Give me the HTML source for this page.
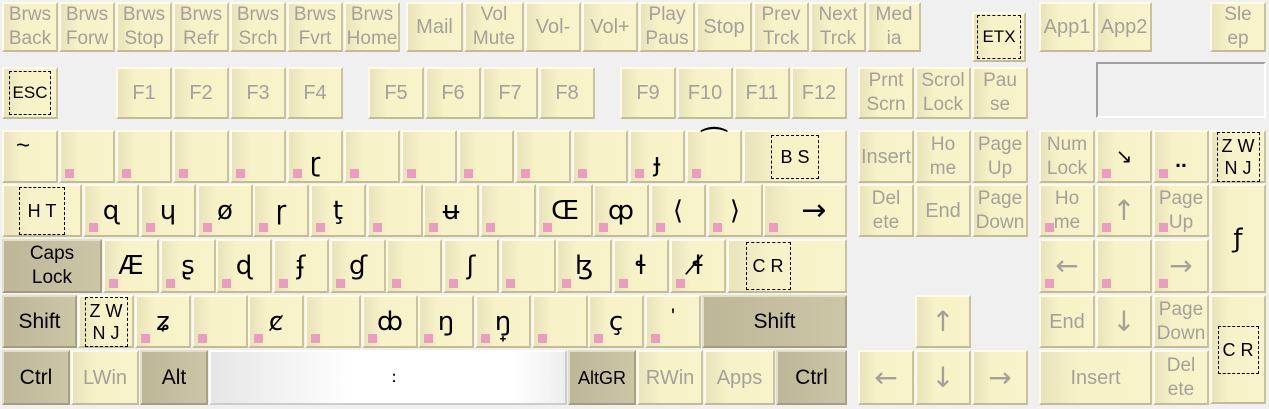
<!DOCTYPE html>
<html><head><meta charset="utf-8"><style>
body{margin:0;width:1269px;height:409px;background:#f0f0f0;position:relative;overflow:hidden;font-family:"Liberation Sans","DejaVu Sans",sans-serif}
.k{position:absolute;box-sizing:border-box;background:linear-gradient(90deg,#e9e3bb 0%,#f8f2c8 35%,#f8f3ca 100%);border:2px solid;border-color:#fffbe6 #c9c39c #c2bc94 #fffbe6;display:flex;align-items:center;justify-content:center;text-align:center;font-size:21px;color:#000;line-height:24px}
.g{color:#a3a19a;font-size:20px}
.d{background:linear-gradient(90deg,#bdb797,#ccc6a6);border-color:#e4dfc8 #a8a283 #a39d7e #e4dfc8}
.s{font-size:19px;line-height:24px}
.p::after{content:"";position:absolute;left:4px;bottom:3px;width:9px;height:9px;background:#ea9dbf}
.b{border:1px dashed #000;font-size:18px;padding:6px 8px;line-height:22px}
.t{font-family:"DejaVu Sans",sans-serif;font-size:26px}
.g.t{font-size:28px}
</style></head><body>
<!-- row 0 -->
<div class="k g s" style="left:2px;top:2px;width:56px;height:50px">Brws<br>Back</div>
<div class="k g s" style="left:59px;top:2px;width:56px;height:50px">Brws<br>Forw</div>
<div class="k g s" style="left:116px;top:2px;width:56px;height:50px">Brws<br>Stop</div>
<div class="k g s" style="left:173px;top:2px;width:56px;height:50px">Brws<br>Refr</div>
<div class="k g s" style="left:230px;top:2px;width:56px;height:50px">Brws<br>Srch</div>
<div class="k g s" style="left:287px;top:2px;width:56px;height:50px">Brws<br>Fvrt</div>
<div class="k g s" style="left:344px;top:2px;width:56px;height:50px">Brws<br>Home</div>
<div class="k g" style="left:406px;top:2px;width:57px;height:50px">Mail</div>
<div class="k g s" style="left:464px;top:2px;width:60px;height:50px">Vol<br>Mute</div>
<div class="k g" style="left:525px;top:2px;width:56px;height:50px">Vol-</div>
<div class="k g" style="left:582px;top:2px;width:56px;height:50px">Vol+</div>
<div class="k g s" style="left:639px;top:2px;width:56px;height:50px">Play<br>Paus</div>
<div class="k g" style="left:696px;top:2px;width:56px;height:50px">Stop</div>
<div class="k g s" style="left:753px;top:2px;width:56px;height:50px">Prev<br>Trck</div>
<div class="k g s" style="left:810px;top:2px;width:56px;height:50px">Next<br>Trck</div>
<div class="k g s" style="left:867px;top:2px;width:54px;height:50px">Med<br>ia</div>
<div class="k" style="left:972px;top:12px;width:54px;height:50px"><span class="b" style="padding:10px 4px;font-size:17px">ETX</span></div>
<div class="k g" style="left:1039px;top:2px;width:56px;height:50px">App1</div>
<div class="k g" style="left:1096px;top:2px;width:56px;height:50px">App2</div>
<div class="k g s" style="left:1210px;top:2px;width:56px;height:50px">Sle<br>ep</div>
<!-- row 1 -->
<div class="k" style="left:2px;top:67px;width:56px;height:52px"><span class="b" style="padding:10px 3px;font-size:17px">ESC</span></div>
<div class="k g" style="left:116px;top:67px;width:56px;height:52px">F1</div>
<div class="k g" style="left:173px;top:67px;width:56px;height:52px">F2</div>
<div class="k g" style="left:230px;top:67px;width:56px;height:52px">F3</div>
<div class="k g" style="left:287px;top:67px;width:56px;height:52px">F4</div>
<div class="k g" style="left:368px;top:67px;width:56px;height:52px">F5</div>
<div class="k g" style="left:425px;top:67px;width:56px;height:52px">F6</div>
<div class="k g" style="left:482px;top:67px;width:56px;height:52px">F7</div>
<div class="k g" style="left:539px;top:67px;width:56px;height:52px">F8</div>
<div class="k g" style="left:620px;top:67px;width:56px;height:52px">F9</div>
<div class="k g" style="left:677px;top:67px;width:56px;height:52px">F10</div>
<div class="k g" style="left:734px;top:67px;width:56px;height:52px">F11</div>
<div class="k g" style="left:791px;top:67px;width:56px;height:52px">F12</div>
<div class="k g s" style="left:858px;top:67px;width:56px;height:52px">Prnt<br>Scrn</div>
<div class="k g s" style="left:915px;top:67px;width:56px;height:52px">Scrol<br>Lock</div>
<div class="k g s" style="left:972px;top:67px;width:56px;height:52px">Pau<br>se</div>
<div style="position:absolute;left:1096px;top:62px;width:170px;height:56px;box-sizing:border-box;border:2px solid;border-color:#a0a0a0 #fff #fff #a0a0a0;background:#f0f0f0"></div>
<!-- row 2 -->
<div class="k" style="left:2px;top:130px;width:56px;height:53px;align-items:flex-start;justify-content:flex-start;padding:2px 0 0 12px;font-size:24px">~</div>
<div class="k p" style="left:59px;top:130px;width:56px;height:53px"></div>
<div class="k p" style="left:116px;top:130px;width:56px;height:53px"></div>
<div class="k p" style="left:173px;top:130px;width:56px;height:53px"></div>
<div class="k p" style="left:230px;top:130px;width:56px;height:53px"></div>
<div class="k p t" style="left:287px;top:130px;width:56px;height:53px;padding-top:12px">ɽ</div>
<div class="k p" style="left:344px;top:130px;width:56px;height:53px"></div>
<div class="k p" style="left:401px;top:130px;width:56px;height:53px"></div>
<div class="k p" style="left:458px;top:130px;width:56px;height:53px"></div>
<div class="k p" style="left:515px;top:130px;width:56px;height:53px"></div>
<div class="k p" style="left:572px;top:130px;width:56px;height:53px"></div>
<div class="k p t" style="left:629px;top:130px;width:56px;height:53px;padding-top:12px">ɟ</div>
<div class="k p t" style="left:686px;top:130px;width:56px;height:53px;align-items:flex-start;padding-top:2px;font-size:30px">⁀</div>
<div class="k" style="left:743px;top:130px;width:104px;height:53px"><span class="b" style="padding:10px 8px">B S</span></div>
<div class="k g" style="left:858px;top:130px;width:56px;height:53px">Insert</div>
<div class="k g s" style="left:915px;top:130px;width:56px;height:53px">Ho<br>me</div>
<div class="k g s" style="left:972px;top:130px;width:56px;height:53px">Page<br>Up</div>
<div class="k g s" style="left:1039px;top:130px;width:56px;height:53px">Num<br>Lock</div>
<div class="k p" style="left:1096px;top:130px;width:56px;height:53px;font-size:20px">↘</div>
<div class="k p" style="left:1153px;top:130px;width:56px;height:53px;padding-top:8px;font-weight:bold">..</div>
<div class="k" style="left:1210px;top:130px;width:56px;height:53px"><span class="b" style="padding:2px 4px">Z W<br>N J</span></div>
<!-- row 3 -->
<div class="k" style="left:2px;top:184px;width:80px;height:53px"><span class="b" style="padding:12px 8px">H T</span></div>
<div class="k p t" style="left:83px;top:184px;width:56px;height:53px">ɋ</div>
<div class="k p t" style="left:140px;top:184px;width:56px;height:53px">ɥ</div>
<div class="k p t" style="left:197px;top:184px;width:56px;height:53px">ø</div>
<div class="k p t" style="left:253px;top:184px;width:56px;height:53px">ɼ</div>
<div class="k p t" style="left:310px;top:184px;width:56px;height:53px">ţ</div>
<div class="k p" style="left:367px;top:184px;width:56px;height:53px"></div>
<div class="k p t" style="left:423px;top:184px;width:56px;height:53px">ʉ</div>
<div class="k p" style="left:480px;top:184px;width:56px;height:53px"></div>
<div class="k p t" style="left:537px;top:184px;width:56px;height:53px">Œ</div>
<div class="k p t" style="left:593px;top:184px;width:56px;height:53px">ȹ</div>
<div class="k p t" style="left:650px;top:184px;width:56px;height:53px">⟨</div>
<div class="k p t" style="left:707px;top:184px;width:56px;height:53px">⟩</div>
<div class="k p t" style="left:763px;top:184px;width:84px;height:53px;padding-left:18px;font-size:30px">→</div>
<div class="k g s" style="left:858px;top:184px;width:56px;height:53px">Del<br>ete</div>
<div class="k g" style="left:915px;top:184px;width:56px;height:53px">End</div>
<div class="k g s" style="left:972px;top:184px;width:56px;height:53px">Page<br>Down</div>
<div class="k g s p" style="left:1039px;top:184px;width:56px;height:53px">Ho<br>me</div>
<div class="k g t p" style="left:1096px;top:184px;width:56px;height:53px">↑</div>
<div class="k g s p" style="left:1153px;top:184px;width:56px;height:53px">Page<br>Up</div>
<div class="k t" style="left:1210px;top:184px;width:56px;height:109px">ƒ</div>
<!-- row 4 -->
<div class="k d s" style="left:2px;top:239px;width:100px;height:54px">Caps<br>Lock</div>
<div class="k p t" style="left:103px;top:239px;width:56px;height:54px">Æ</div>
<div class="k p t" style="left:160px;top:239px;width:56px;height:54px">ʂ</div>
<div class="k p t" style="left:216px;top:239px;width:56px;height:54px">ɖ</div>
<div class="k p t" style="left:273px;top:239px;width:56px;height:54px">ʄ</div>
<div class="k p t" style="left:330px;top:239px;width:56px;height:54px">ɠ</div>
<div class="k p" style="left:386px;top:239px;width:56px;height:54px"></div>
<div class="k p t" style="left:443px;top:239px;width:56px;height:54px">ʃ</div>
<div class="k p" style="left:500px;top:239px;width:56px;height:54px"></div>
<div class="k p t" style="left:556px;top:239px;width:56px;height:54px">ɮ</div>
<div class="k p t" style="left:613px;top:239px;width:56px;height:54px">ɬ</div>
<div class="k p t" style="left:670px;top:239px;width:56px;height:54px">ɬ̸</div>
<div class="k" style="left:727px;top:239px;width:120px;height:54px;padding-right:38px"><span class="b" style="padding:12px 6px">C R</span></div>
<div class="k g t p" style="left:1039px;top:239px;width:56px;height:54px">←</div>
<div class="k p" style="left:1096px;top:239px;width:56px;height:54px"></div>
<div class="k g t p" style="left:1153px;top:239px;width:56px;height:54px">→</div>
<!-- row 5 -->
<div class="k d" style="left:2px;top:295px;width:75px;height:53px">Shift</div>
<div class="k" style="left:78px;top:295px;width:56px;height:53px"><span class="b" style="padding:2px 4px">Z W<br>N J</span></div>
<div class="k p t" style="left:135px;top:295px;width:56px;height:53px">ʑ</div>
<div class="k p" style="left:192px;top:295px;width:56px;height:53px"></div>
<div class="k p t" style="left:248px;top:295px;width:56px;height:53px">ȼ</div>
<div class="k p" style="left:305px;top:295px;width:56px;height:53px"></div>
<div class="k p t" style="left:362px;top:295px;width:56px;height:53px">ȸ</div>
<div class="k p t" style="left:418px;top:295px;width:56px;height:53px">ŋ</div>
<div class="k p t" style="left:475px;top:295px;width:56px;height:53px">ŋ̟</div>
<div class="k p" style="left:532px;top:295px;width:56px;height:53px"></div>
<div class="k p t" style="left:588px;top:295px;width:56px;height:53px">ç</div>
<div class="k p" style="left:645px;top:295px;width:56px;height:53px;padding-bottom:10px">'</div>
<div class="k d" style="left:702px;top:295px;width:145px;height:53px">Shift</div>
<div class="k g t" style="left:915px;top:295px;width:56px;height:53px">↑</div>
<div class="k g" style="left:1039px;top:295px;width:56px;height:53px">End</div>
<div class="k g t" style="left:1096px;top:295px;width:56px;height:53px">↓</div>
<div class="k g s" style="left:1153px;top:295px;width:56px;height:53px">Page<br>Down</div>
<div class="k" style="left:1210px;top:295px;width:56px;height:109px"><span class="b" style="padding:12px 4px">C R</span></div>
<!-- row 6 -->
<div class="k d" style="left:2px;top:350px;width:68px;height:55px">Ctrl</div>
<div class="k g" style="left:71px;top:350px;width:68px;height:55px">LWin</div>
<div class="k d" style="left:140px;top:350px;width:68px;height:55px">Alt</div>
<div class="k" style="left:209px;top:350px;width:358px;height:55px;background:linear-gradient(90deg,#e6e6e6,#fff 40%,#fff 85%,#eee);border-color:#fff #ccc #ccc #fff;font-size:16px;font-weight:bold;padding-left:12px">ː</div>
<div class="k d" style="left:568px;top:350px;width:68px;height:55px;font-size:18px">AltGR</div>
<div class="k g" style="left:637px;top:350px;width:66px;height:55px">RWin</div>
<div class="k g" style="left:704px;top:350px;width:71px;height:55px">Apps</div>
<div class="k d" style="left:776px;top:350px;width:71px;height:55px">Ctrl</div>
<div class="k g t" style="left:858px;top:350px;width:56px;height:55px">←</div>
<div class="k g t" style="left:915px;top:350px;width:56px;height:55px">↓</div>
<div class="k g t" style="left:972px;top:350px;width:56px;height:55px">→</div>
<div class="k g" style="left:1039px;top:350px;width:113px;height:55px">Insert</div>
<div class="k g s" style="left:1153px;top:350px;width:56px;height:55px">Del<br>ete</div>
</body></html>
